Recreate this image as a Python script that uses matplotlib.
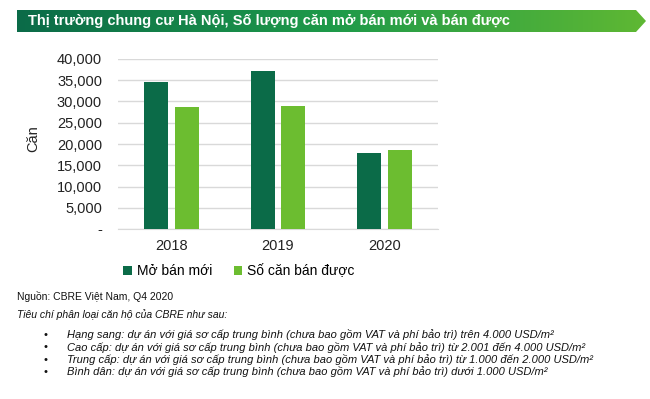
import numpy as np
import matplotlib
matplotlib.use("Agg")
import matplotlib.pyplot as plt
from matplotlib.patches import Polygon
from matplotlib.colors import LinearSegmentedColormap
from matplotlib.ticker import FuncFormatter, MultipleLocator

plt.rcParams["font.family"] = ["Liberation Sans", "DejaVu Sans"]

years = ["2018", "2019", "2020"]
mo_ban_moi = [34600, 37250, 17950]
so_can_ban = [28700, 28950, 18500]

title = "Thị trường chung cư Hà Nội, Số lượng căn mở bán mới và bán được"
source = "Nguồn: CBRE Việt Nam, Q4 2020"
criteria = "Tiêu chí phân loại căn hộ của CBRE như sau:"
bullets = [
    "Hạng sang: dự án với giá sơ cấp trung bình (chưa bao gồm VAT và phí bảo trì) trên 4.000 USD/m²",
    "Cao cấp: dự án với giá sơ cấp trung bình (chưa bao gồm VAT và phí bảo trì) từ 2.001 đến 4.000 USD/m²",
    "Trung cấp: dự án với giá sơ cấp trung bình (chưa bao gồm VAT và phí bảo trì) từ 1.000 đến 2.000 USD/m²",
    "Bình dân: dự án với giá sơ cấp trung bình (chưa bao gồm VAT và phí bảo trì) dưới 1.000 USD/m²",
]

dark = "#0b6b48"
light = "#6cbd30"

W, H = 650, 399
fig = plt.figure(figsize=(6.5, 3.99), dpi=100)

# title banner with gradient arrow
bx0, bx1, by0, by1 = 17, 646, 10, 32
bax = fig.add_axes([bx0 / W, 1 - by1 / H, (bx1 - bx0) / W, (by1 - by0) / H])
bax.set_xlim(0, 1)
bax.set_ylim(0, 1)
bax.axis("off")
cmap = LinearSegmentedColormap.from_list("g", ["#0b6b48", "#1e9a4a", "#5fb833"])
grad = np.linspace(0, 1, 256).reshape(1, -1)
im = bax.imshow(grad, extent=[0, 1, 0, 1], aspect="auto", cmap=cmap)
tip = 1 - 10 / (bx1 - bx0)
poly = Polygon([(0, 0), (tip, 0), (1, 0.5), (tip, 1), (0, 1)], closed=True,
               facecolor="none", edgecolor="none", transform=bax.transData)
bax.add_patch(poly)
im.set_clip_path(poly)
fig.text(28 / W, 1 - 21 / H, title, color="white", fontsize=10.5, fontweight="bold",
         va="center", ha="left")

# chart
ax = fig.add_axes([118 / W, 1 - 229 / H, 320 / W, 170 / H])
x = np.arange(len(years))
w = 0.225
ax.bar(x - 0.145, mo_ban_moi, w, color=dark, label="Mở bán mới", zorder=3)
ax.bar(x + 0.145, so_can_ban, w, color=light, label="Số căn bán được", zorder=3)
ax.set_xlim(-0.5, 2.5)
ax.set_ylim(0, 40000)
ax.yaxis.set_major_locator(MultipleLocator(5000))
ax.yaxis.set_major_formatter(FuncFormatter(lambda v, p: "-" if v == 0 else f"{v:,.0f}"))
ax.set_xticks(x)
ax.set_xticklabels(years)
ax.tick_params(axis="both", length=0, labelsize=10.5, colors="#222222")
ax.tick_params(axis="x", pad=7)
ax.tick_params(axis="y", pad=11.5)
ax.grid(axis="y", color="#d9d9d9", linewidth=1, zorder=0)
for s in ["top", "right", "left"]:
    ax.spines[s].set_visible(False)
ax.spines["bottom"].set_color("#d9d9d9")
ax.set_ylabel("Căn", fontsize=10.5, color="#222222")
ax.yaxis.set_label_coords(-(118 - 40) / 320, 0.53)

leg = fig.legend(loc="center", bbox_to_anchor=(239 / W, 1 - 271 / H), ncol=2, frameon=False,
                 fontsize=10, handlelength=0.6, handleheight=0.6, handletextpad=0.35,
                 columnspacing=1.6)

# footnotes
fig.text(17 / W, 1 - 296 / H, source, fontsize=7.5, va="center", ha="left", color="#111111")
fig.text(17 / W, 1 - 315 / H, criteria, fontsize=7.5, style="italic", va="center", ha="left",
         color="#111111")
for i, b in enumerate(bullets):
    yy = 1 - (335 + i * 12.3) / H
    fig.text(43 / W, yy, "•", fontsize=8, va="center", ha="left", color="#111111")
    fig.text(67 / W, yy, b, fontsize=8, style="italic", va="center", ha="left", color="#111111")

fig.savefig("out.png", dpi=100)
